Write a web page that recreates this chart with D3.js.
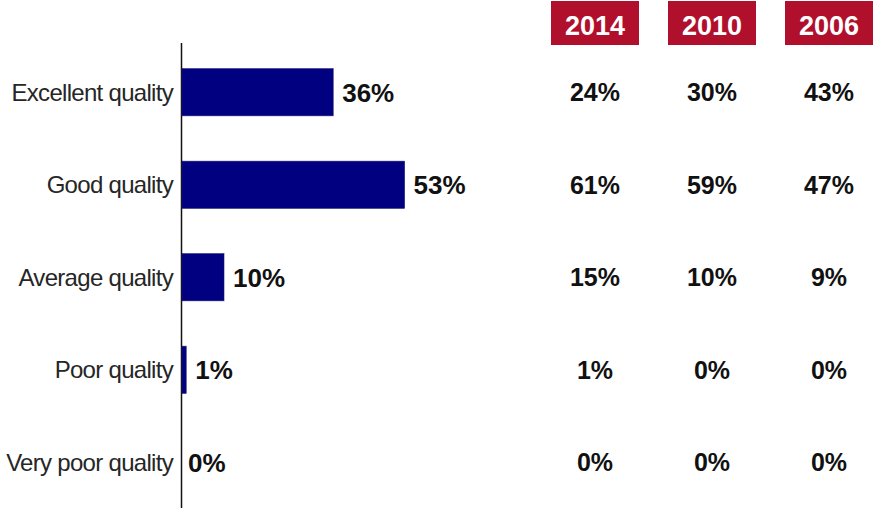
<!DOCTYPE html>
<html>
<head>
<meta charset="utf-8">
<script src="https://cdn.jsdelivr.net/npm/d3@7"></script>
<style>
  html, body { margin: 0; padding: 0; background: #fff; }
  svg { display: block; }
</style>
</head>
<body>
<svg id="chart" width="873" height="508"></svg>
<script>
// Ratings of quality, current survey plus earlier waves
const categories = ["Excellent quality", "Good quality", "Average quality", "Poor quality", "Very poor quality"];
const current = [36, 53, 10, 1, 0];
const years = ["2014", "2010", "2006"];
const wave2014 = [24, 61, 15, 1, 0];
const wave2010 = [30, 59, 10, 0, 0];
const wave2006 = [43, 47, 9, 0, 0];
const waves = [wave2014, wave2010, wave2006];

const svg = d3.select("#chart");
const font = "'Liberation Sans', Arial, sans-serif";

const x = d3.scaleLinear().domain([0, 100]).range([182, 602]);
const y = d3.scaleBand().domain(categories).range([46, 508.5])
  .paddingInner(0.49).paddingOuter(0.245);

// Category axis
const axis = d3.axisLeft(y).tickSize(0).tickPadding(9);
const gAxis = svg.append("g").attr("transform", `translate(${x(0)},0)`).call(axis);
gAxis.select(".domain").remove();
gAxis.selectAll("text")
  .attr("font-family", font)
  .attr("font-size", 24)
  .attr("fill", "#262626")
  .attr("letter-spacing", "-0.7px")
  .attr("dy", "0.36em");

svg.append("line")
  .attr("x1", x(0) - 0.5).attr("x2", x(0) - 0.5)
  .attr("y1", 43).attr("y2", 508)
  .attr("stroke", "#111").attr("stroke-width", 1.5);

// Bars
svg.append("g").selectAll("rect")
  .data(current)
  .join("rect")
  .attr("x", x(0))
  .attr("y", (d, i) => y(categories[i]))
  .attr("width", d => x(d) - x(0))
  .attr("height", y.bandwidth())
  .attr("fill", "#000080")
  .attr("stroke", "#1a1a6e")
  .attr("stroke-width", 0.6);

// Bar value labels
svg.append("g").selectAll("text")
  .data(current)
  .join("text")
  .attr("x", d => x(d) + (d > 0 ? 9 : 6))
  .attr("y", (d, i) => y(categories[i]) + y.bandwidth() / 2)
  .attr("dy", "0.36em")
  .attr("font-family", font)
  .attr("font-size", 26)
  .attr("font-weight", "bold")
  .attr("fill", "#111")
  .text(d => d + "%");

// Earlier waves as columns
const colX = d3.scalePoint().domain(years).range([595, 829]);

const headers = svg.append("g").selectAll("g")
  .data(years)
  .join("g")
  .attr("transform", d => `translate(${colX(d)},0)`);
headers.append("rect")
  .attr("x", -44).attr("y", 1)
  .attr("width", 88).attr("height", 44)
  .attr("fill", "#b0102c");
headers.append("text")
  .attr("y", 35)
  .attr("text-anchor", "middle")
  .attr("font-family", font)
  .attr("font-size", 27)
  .attr("font-weight", "bold")
  .attr("fill", "#fff")
  .text(d => d);

years.forEach((yr, j) => {
  svg.append("g").selectAll("text")
    .data(waves[j])
    .join("text")
    .attr("x", colX(yr))
    .attr("y", (d, i) => y(categories[i]) + y.bandwidth() / 2)
    .attr("dy", "0.36em")
    .attr("text-anchor", "middle")
    .attr("font-family", font)
    .attr("font-size", 25)
    .attr("font-weight", "bold")
    .attr("fill", "#111")
    .text(d => d + "%");
});
</script>
</body>
</html>
